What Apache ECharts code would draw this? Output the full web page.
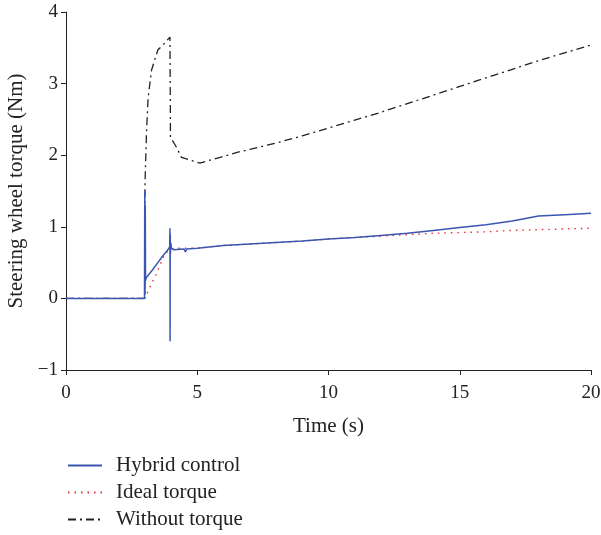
<!DOCTYPE html>
<html>
<head>
<meta charset="utf-8">
<script src="https://cdn.jsdelivr.net/npm/echarts@6/dist/echarts.min.js"></script>
<style>html,body{margin:0;padding:0;background:#fff}#c{width:601px;height:535px}</style>
</head>
<body>
<div id="c"></div>
<script>
const xTicks = [0, 5, 10, 15, 20];
const yTicks = [-1, 0, 1, 2, 3, 4];

const hybridT = [0, 2.99, 3.0, 3.01, 3.02, 3.03, 3.05, 3.1, 3.3, 3.5, 3.7, 3.9, 3.95, 3.96, 3.965, 3.97, 3.98, 3.99, 4.02, 4.1, 4.5, 4.55, 4.6, 5, 6, 7, 8, 9, 10, 11, 12, 13, 14, 15, 16, 17, 18, 19, 20];
const hybridV = [0, 0, 1.5, 0.05, 1.3, 0.25, 0.28, 0.31, 0.40, 0.50, 0.60, 0.69, 0.72, 0.98, -0.6, 0.9, 0.62, 0.78, 0.70, 0.68, 0.69, 0.65, 0.69, 0.70, 0.74, 0.76, 0.78, 0.80, 0.83, 0.85, 0.88, 0.91, 0.95, 0.99, 1.03, 1.08, 1.15, 1.17, 1.19];

const idealT = [0, 3.0, 3.2, 3.45, 3.77, 4.1, 5, 6, 7, 8, 9, 10, 11, 12, 13, 14, 15, 16, 17, 18, 19, 20];
const idealV = [0, 0, 0.16, 0.35, 0.63, 0.70, 0.70, 0.74, 0.76, 0.78, 0.80, 0.83, 0.85, 0.87, 0.89, 0.91, 0.92, 0.93, 0.95, 0.96, 0.97, 0.98];

const withoutT = [0, 3.0, 3.01, 3.07, 3.13, 3.26, 3.5, 3.77, 3.96, 3.98, 4.21, 4.4, 5.1, 5.87, 6.63, 7, 8, 9, 10, 11, 12, 13, 14, 15, 16, 17, 18, 19, 20];
const withoutV = [0, 0, 1.61, 2.35, 2.81, 3.19, 3.47, 3.57, 3.65, 2.25, 2.11, 1.97, 1.89, 1.97, 2.05, 2.08, 2.17, 2.27, 2.38, 2.49, 2.60, 2.72, 2.84, 2.96, 3.08, 3.20, 3.32, 3.43, 3.54];

const names = ['Hybrid control', 'Ideal torque', 'Without torque'];
const zip = (t, v) => t.map((x, i) => [x, v[i]]);

const font = 'Liberation Serif';
const fs = 21, tfs = 19;
const chart = echarts.init(document.getElementById('c'));
chart.setOption({
  animation: false,
  backgroundColor: '#fff',
  grid: { left: 66, right: 10, top: 12, bottom: 165, outerBoundsMode: 'none', containLabel: false },
  legend: {
    orient: 'vertical', left: 62, top: 450, height: 90,
    itemWidth: 34, itemHeight: 14, itemGap: 6,
    itemStyle: { opacity: 0 },
    textStyle: { fontFamily: font, fontSize: fs, color: '#222', padding: [0, 0, 0, 9] },
    data: names
  },
  xAxis: {
    type: 'value', min: 0, max: 20, interval: 5,
    name: 'Time (s)', nameLocation: 'middle', nameGap: 46,
    nameTextStyle: { fontFamily: font, fontSize: fs, color: '#222' },
    axisLine: { onZero: false, lineStyle: { color: '#222', width: 1 } },
    axisTick: { show: true, length: 5, lineStyle: { color: '#222' } },
    axisLabel: { fontFamily: font, fontSize: tfs, color: '#222', margin: 14 },
    splitLine: { show: false }
  },
  yAxis: {
    type: 'value', min: -1, max: 4, interval: 1,
    name: 'Steering wheel torque (Nm)', nameLocation: 'middle', nameGap: 37,
    nameTextStyle: { fontFamily: font, fontSize: fs, color: '#222' },
    axisLine: { show: true, onZero: false, lineStyle: { color: '#222', width: 1 } },
    axisTick: { show: true, length: 5, lineStyle: { color: '#222' } },
    axisLabel: { fontFamily: font, fontSize: tfs, color: '#222', margin: 8,
      formatter: v => String(v).replace('-', '\u2212') },
    splitLine: { show: false }
  },
  series: [
    { name: names[2], type: 'line', showSymbol: false, symbol: 'none', z: 1,
      data: zip(withoutT, withoutV), color: '#222',
      lineStyle: { color: '#222', width: 1.3, type: [8, 4, 2, 4] } },
    { name: names[1], type: 'line', showSymbol: false, symbol: 'none', z: 2,
      data: zip(idealT, idealV), color: '#e8303a',
      lineStyle: { color: '#e8303a', width: 1.4, type: [1.5, 5] } },
    { name: names[0], type: 'line', showSymbol: false, symbol: 'none', z: 3,
      data: zip(hybridT, hybridV), color: '#3a56b0',
      lineStyle: { color: '#3a56b0', width: 1.5 } }
  ]
});
</script>
</body>
</html>
